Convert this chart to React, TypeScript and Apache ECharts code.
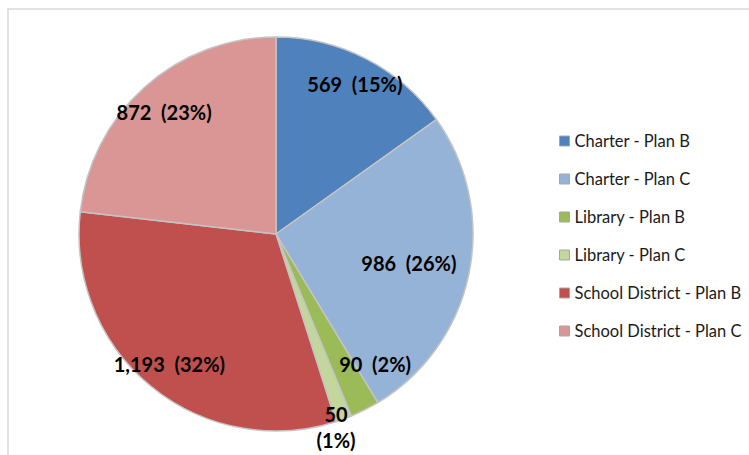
import React, { useEffect, useRef } from "react";
import * as echarts from "echarts";

const categories = [
  "Charter - Plan B",
  "Charter - Plan C",
  "Library - Plan B",
  "Library - Plan C",
  "School District - Plan B",
  "School District - Plan C",
];
const values = [569, 986, 90, 50, 1193, 872];
const colors = ["#4F81BD", "#95B3D7", "#9BBB59", "#C3D69B", "#C0504D", "#D99694"];
// label placement ("best fit"): distance from centre as fraction of radius, and angular nudge in degrees
const labelRadius = [0.86, 0.69, 0.83, 1.025, 0.853, 0.84];
const labelAngleShift = [0.5, 0.5, -10.5, 2.8, 0, -0.8];

const CX = 276;
const CY = 234;
const R = 197;

export default function App() {
  const ref = useRef<HTMLDivElement>(null);
  useEffect(() => {
    if (!ref.current) return;
    const chart = echarts.init(ref.current, null, { renderer: "svg" });
    const fmt = (n: number) => n.toLocaleString("en-US");
    const total = values.reduce((a, b) => a + b, 0);
    const midAngles: number[] = [];
    let acc = 0;
    values.forEach((v) => {
      midAngles.push(((acc + v / 2) / total) * 360);
      acc += v;
    });
    chart.setOption({
      animation: false,
      backgroundColor: "#ffffff",
      graphic: [
        {
          type: "rect",
          shape: { x: 8, y: 9, width: 780, height: 480 },
          style: { fill: "none", stroke: "#d9d9d9", lineWidth: 1.5 },
          silent: true,
          z: 0,
        },
      ],
      legend: {
        orient: "vertical",
        left: 554,
        top: 127,
        itemWidth: 10,
        itemHeight: 10,
        itemGap: 20,
        icon: "rect",
        itemStyle: { borderColor: "#a6a6a6", borderWidth: 1 },
        textStyle: {
          fontFamily: "Lato",
          fontSize: 16.5,
          lineHeight: 18,
          color: "#1a1a1a",
        },
        data: categories,
      },
      series: [
        {
          type: "pie",
          center: [CX, CY],
          radius: [0, R],
          startAngle: 90,
          clockwise: true,
          avoidLabelOverlap: false,
          itemStyle: { borderColor: "#c4c4c4", borderWidth: 1.5 },
          emphasis: { disabled: true },
          label: {
            show: true,
            position: "inside",
            fontFamily: "Lato",
            fontWeight: "bold",
            fontSize: 20,
            lineHeight: 26,
            color: "#000000",
            formatter: (p: any) => {
              const pct = Math.round(p.percent);
              return p.percent < 2
                ? `${fmt(p.value)}\n(${pct}%)`
                : `${fmt(p.value)}  (${pct}%)`;
            },
          },
          labelLine: { show: false },
          labelLayout: (p: any) => {
            const i = p.dataIndex;
            const th = ((midAngles[i] + labelAngleShift[i]) * Math.PI) / 180;
            const r = labelRadius[i] * R;
            return {
              x: CX + r * Math.sin(th),
              y: CY - r * Math.cos(th),
              align: "center",
              verticalAlign: "middle",
            };
          },
          data: categories.map((name, i) => ({
            name,
            value: values[i],
            itemStyle: { color: colors[i] },
          })),
        },
      ],
    });
    return () => chart.dispose();
  }, []);
  return (
    <div
      ref={ref}
      style={{ position: "absolute", left: 0, top: 0, width: 749, height: 455 }}
    />
  );
}
